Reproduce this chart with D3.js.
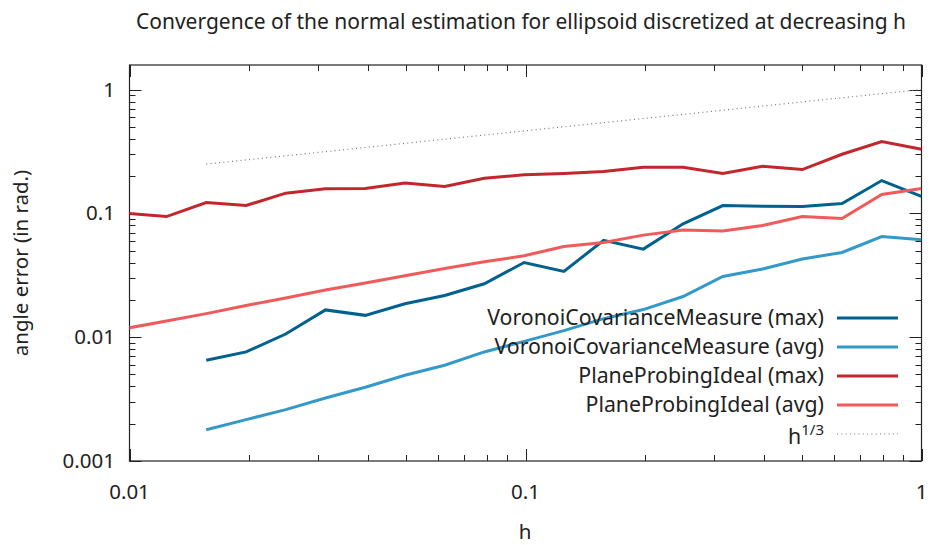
<!DOCTYPE html>
<html>
<head>
<meta charset="utf-8">
<script src="https://cdn.jsdelivr.net/npm/d3@7"></script>
<style>
  html, body { margin: 0; padding: 0; background: #fff; }
  svg { display: block; font-family: "Noto Sans", sans-serif; }
</style>
</head>
<body>
<svg id="chart" width="930" height="545"></svg>
<script>
// Mesh step h (refined by a factor 2^(1/3) each step)
const hValues = [1, 0.7937, 0.63, 0.5, 0.3969, 0.315, 0.25, 0.1984, 0.1575, 0.125,
                 0.0992, 0.0787, 0.0625, 0.0496, 0.0394, 0.03125, 0.0248, 0.0197,
                 0.015625, 0.0124, 0.00984];

// Angle error (rad.) for each method
const voronoiMax = [0.137, 0.184, 0.120, 0.1136, 0.1143, 0.1156, 0.0823, 0.0514, 0.0605,
                    0.034, 0.0401, 0.027, 0.0217, 0.0186, 0.0150, 0.0166, 0.0106, 0.0076, 0.0065];
const voronoiAvg = [0.0611, 0.065, 0.0483, 0.0428, 0.0355, 0.0309, 0.0213, 0.0167, 0.0141,
                    0.0113, 0.00925, 0.0076, 0.00593, 0.00492, 0.00394, 0.00323, 0.0026, 0.00216, 0.00179];
const probingMax = [0.329, 0.380, 0.300, 0.2257, 0.240, 0.2094, 0.2356, 0.2356, 0.2174,
                    0.2094, 0.205, 0.192, 0.1646, 0.176, 0.1584, 0.1576, 0.1455, 0.1156, 0.1222,
                    0.0942, 0.1];
const probingAvg = [0.1584, 0.1418, 0.0908, 0.0942, 0.0798, 0.0719, 0.0732, 0.0667, 0.0581,
                    0.054, 0.0454, 0.0406, 0.0359, 0.0313, 0.0274, 0.024, 0.0207, 0.01805, 0.0155,
                    0.0135, 0.0118];
// Reference slope h^(1/3)
const refCubeRoot = [1, 0.9259, 0.8572, 0.7937, 0.7349, 0.6804, 0.63, 0.5833, 0.54, 0.5,
                     0.463, 0.4286, 0.3969, 0.3674, 0.3402, 0.315, 0.2916, 0.27, 0.25];

const xTicks = [0.01, 0.1, 1];
const yTicks = [0.001, 0.01, 0.1, 1];
const xTickLabels = ["0.01", "0.1", "1"];
const yTickLabels = ["0.001", "0.01", "0.1", "1"];

const series = [
  { name: "VoronoiCovarianceMeasure (max)", values: voronoiMax, color: "#00618d", dash: null, width: 3 },
  { name: "VoronoiCovarianceMeasure (avg)", values: voronoiAvg, color: "#3399c9", dash: null, width: 3 },
  { name: "PlaneProbingIdeal (max)", values: probingMax, color: "#c1272d", dash: null, width: 3 },
  { name: "PlaneProbingIdeal (avg)", values: probingAvg, color: "#f05a5a", dash: null, width: 3 },
  { name: "h^{1/3}", values: refCubeRoot, color: "#777", dash: "1,3.3", width: 1.2 }
];

const svg = d3.select("#chart");
const pLeft = 129.5, pRight = 921.5, pTop = 65, pBottom = 461;

const x = d3.scaleLog().domain([0.01, 1]).range([pLeft, pRight]);
const y = d3.scaleLog().domain([0.001, 1]).range([pBottom, 89.5]);

svg.append("defs").append("clipPath").attr("id", "plotclip")
  .append("rect").attr("x", pLeft).attr("y", pTop)
  .attr("width", pRight - pLeft).attr("height", pBottom - pTop);

// minor ticks at 2..9 of each decade (mirrored on all four sides)
const minorX = [], minorY = [];
[0.01, 0.1].forEach(d => { for (let m = 2; m <= 9; m++) minorX.push(d * m); });
[0.001, 0.01, 0.1, 1].forEach(d => { for (let m = 2; m <= 9; m++) minorY.push(d * m); });

const tickG = svg.append("g").attr("stroke", "#222").attr("stroke-width", 1);
function xt(v, len) {
  const px = Math.round(x(v)) + 0.5;
  tickG.append("line").attr("x1", px).attr("x2", px).attr("y1", pBottom).attr("y2", pBottom - len);
  tickG.append("line").attr("x1", px).attr("x2", px).attr("y1", pTop).attr("y2", pTop + len);
}
function yt(v, len) {
  const py = Math.round(y(v)) + 0.5;
  tickG.append("line").attr("x1", pLeft).attr("x2", pLeft + len).attr("y1", py).attr("y2", py);
  tickG.append("line").attr("x1", pRight).attr("x2", pRight - len).attr("y1", py).attr("y2", py);
}
minorX.forEach(v => xt(v, 6));
xTicks.forEach(v => xt(v, 12));
minorY.filter(v => y(v) >= pTop).forEach(v => yt(v, 6));
yTicks.forEach(v => yt(v, 12));

// frame
svg.append("rect").attr("x", pLeft).attr("y", pTop)
  .attr("width", pRight - pLeft).attr("height", pBottom - pTop)
  .attr("fill", "none").attr("stroke", "#222").attr("stroke-width", 1.2);

// tick labels
const fs = 20.5;
svg.append("g").selectAll("text").data(xTicks).join("text")
  .attr("x", d => x(d)).attr("y", 499).attr("text-anchor", "middle")
  .attr("font-size", fs).attr("fill", "#222")
  .text((d, i) => xTickLabels[i]);
svg.append("g").selectAll("text").data(yTicks).join("text")
  .attr("x", 115).attr("y", d => y(d) + 7).attr("text-anchor", "end")
  .attr("font-size", fs).attr("fill", "#222")
  .text((d, i) => yTickLabels[i]);

// series lines
const plot = svg.append("g").attr("clip-path", "url(#plotclip)");
const line = d3.line().x(d => x(d[0])).y(d => y(d[1]));
series.forEach(s => {
  const pts = s.values.map((v, i) => [hValues[i], v]);
  plot.append("path").attr("d", line(pts)).attr("fill", "none")
    .attr("stroke", s.color).attr("stroke-width", s.width)
    .attr("stroke-dasharray", s.dash);
});

// legend
const lg = svg.append("g");
const lfs = 21.3;
series.forEach((s, i) => {
  const ly = 318 + i * 29;
  lg.append("line").attr("x1", 837).attr("x2", 898).attr("y1", ly).attr("y2", ly)
    .attr("stroke", s.color).attr("stroke-width", s.width).attr("stroke-dasharray", s.dash);
  const t = lg.append("text").attr("x", 824).attr("y", ly + 7).attr("text-anchor", "end")
    .attr("font-size", lfs).attr("fill", "#222");
  if (s.name === "h^{1/3}") {
    t.attr("y", ly + 10);
    t.append("tspan").text("h");
    t.append("tspan").attr("dy", -9).attr("font-size", 15).text("1/3");
  } else {
    t.text(s.name);
  }
});

// title and axis labels
svg.append("text").attr("x", 521).attr("y", 29).attr("text-anchor", "middle")
  .attr("font-size", 21).attr("fill", "#222")
  .text("Convergence of the normal estimation for ellipsoid discretized at decreasing h");
svg.append("text").attr("transform", "translate(28,263) rotate(-90)").attr("text-anchor", "middle")
  .attr("font-size", fs).attr("fill", "#222").text("angle error (in rad.)");
svg.append("text").attr("x", 525).attr("y", 539).attr("text-anchor", "middle")
  .attr("font-size", fs).attr("fill", "#222").text("h");
</script>
</body>
</html>
